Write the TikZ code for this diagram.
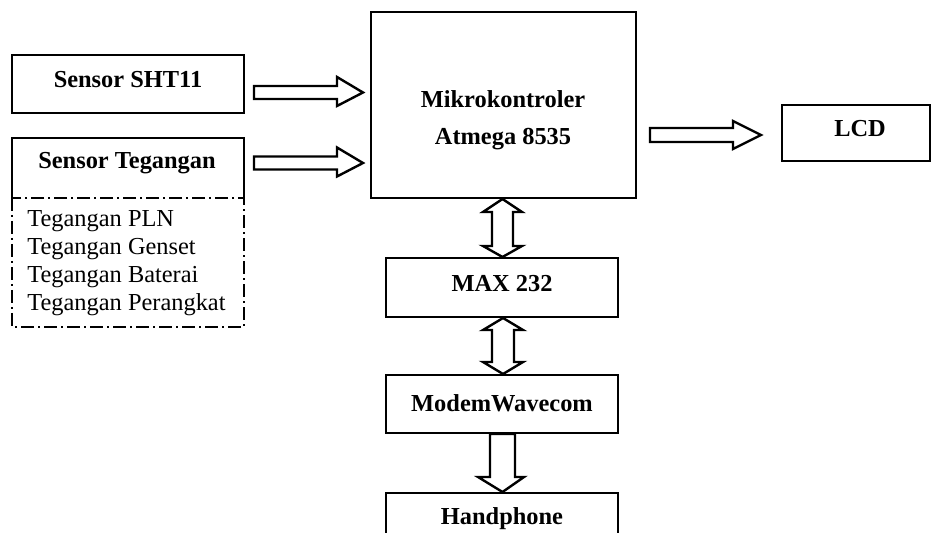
\documentclass[tikz,border=0pt]{standalone}
\usepackage{fontspec}
\setmainfont{Liberation Serif}
\usetikzlibrary{calc}
\begin{document}
\begin{tikzpicture}[x=0.5pt,y=-0.5pt,
  box/.style={draw,line width=0.9pt,inner sep=0pt},
  lbl/.style={font=\fontsize{12.2}{14}\selectfont\bfseries,inner sep=0pt},
  itm/.style={font=\fontsize{12.2}{14}\selectfont,inner sep=0pt,anchor=west},
  blockarrow/.style={draw,line width=1.2pt,line join=miter,fill=white}]
\useasboundingbox (0,0) rectangle (935,533);
\clip (0,0) rectangle (935,533);
% boxes
\node[box,minimum width=116pt,minimum height=29pt] (sht) at (128,84) {};
\node[lbl] (shtt) at (128,80) {Sensor SHT11};
\coordinate (tegA) at (12,198);
\coordinate (tegB) at (244,138);
\draw[line width=0.9pt] (tegA) -- (12,138) -- (tegB) -- (244,198);
\draw[line width=0.9pt,dash pattern=on 6.5pt off 2pt on 1pt off 2pt] (12,198) rectangle (244,327);
\node[lbl] (tegt) at (127,163) {Sensor Tegangan};
\node[itm] (t1) at (27,221) {Tegangan PLN};
\node[itm] (t2) at (27,249) {Tegangan Genset};
\node[itm] (t3) at (27,277) {Tegangan Baterai};
\node[itm] (t4) at (27,305) {Tegangan Perangkat};
\node[box,minimum width=132.5pt,minimum height=93pt] (mcu) at (503.5,105) {};
\node[lbl] (mcu1) at (503,99) {Mikrokontroler};
\node[lbl] (mcu2) at (503,139) {Atmega 8535};
\node[box,minimum width=74pt,minimum height=28pt] (lcd) at (856,133) {};
\node[lbl] (lcdt) at (860,129) {LCD};
\node[box,minimum width=116pt,minimum height=29.5pt] (max) at (502,287.5) {};
\node[lbl] (maxt) at (502,284) {MAX 232};
\node[box,minimum width=116pt,minimum height=29pt] (modem) at (502,404) {};
\node[lbl] (modemt) at (502,403) {ModemWavecom};
\node[box,minimum width=116pt,minimum height=29pt] (hp) at (502,522) {};
\node[lbl] (hpt) at (502,519) {Handphone};
% horizontal block arrows
\draw[blockarrow] (254,86) -- (337,86) -- (337,77) -- (363,92.5) -- (337,106) -- (337,99) -- (254,99) -- cycle;
\draw[blockarrow] (254,156.5) -- (337,156.5) -- (337,147.5) -- (363,163) -- (337,176.5) -- (337,169.5) -- (254,169.5) -- cycle;
\draw[blockarrow] (650,128) -- (733,128) -- (733,121) -- (761,135) -- (733,149) -- (733,142) -- (650,142) -- cycle;
% vertical double arrows
\draw[blockarrow] (502.5,199) -- (522,212) -- (513,212) -- (513,246) -- (522,246) -- (502.5,257) -- (483,246) -- (492,246) -- (492,212) -- (483,212) -- cycle;
\draw[blockarrow] (503,318) -- (523,330) -- (514,330) -- (514,362) -- (523,362) -- (503,374) -- (483,362) -- (492,362) -- (492,330) -- (483,330) -- cycle;
% down arrow
\draw[blockarrow] (490,434) -- (515,434) -- (515,477) -- (524,477) -- (502.5,492) -- (478,477) -- (490,477) -- cycle;
\end{tikzpicture}
\end{document}
